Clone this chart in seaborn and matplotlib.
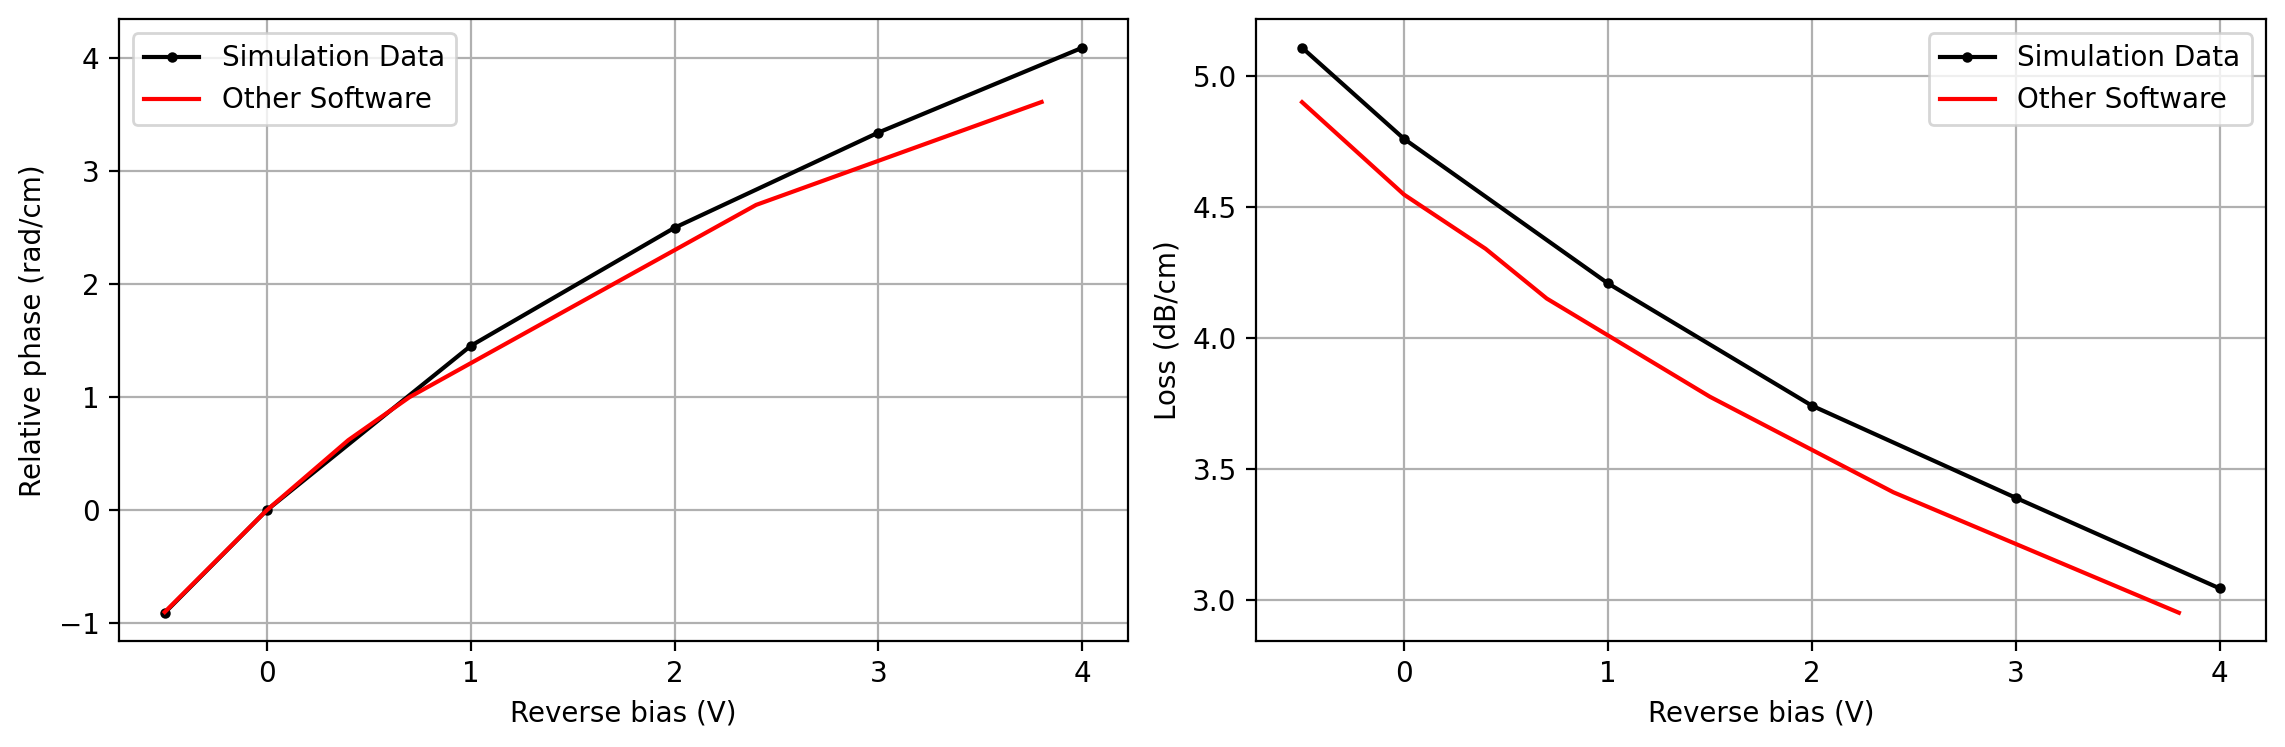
import matplotlib
matplotlib.use("Agg")
import matplotlib.pyplot as plt
import seaborn as sns

# Simulation data (sampled bias points)
bias_sim = [-0.5, 0, 1, 2, 3, 4]
phase_sim = [-0.906, 0.0, 1.453, 2.498, 3.34, 4.09]
loss_sim = [5.108, 4.76, 4.208, 3.741, 3.389, 3.043]

# Other software curve
bias_other = [-0.5, 0, 0.4, 0.7, 1.5, 2.4, 3.8]
phase_other = [-0.9, 0.0, 0.62, 1.0, 1.8, 2.7, 3.61]
loss_other = [4.90, 4.547, 4.34, 4.15, 3.775, 3.41, 2.95]

fig, axes = plt.subplots(1, 2, figsize=(11.425, 3.735), dpi=200)

# Relative phase
ax = axes[0]
sns.lineplot(x=bias_sim, y=phase_sim, ax=ax, color='black', marker='.',
             markeredgecolor='black', label='Simulation Data')
sns.lineplot(x=bias_other, y=phase_other, ax=ax, color='red', label='Other Software')
ax.set_xlabel('Reverse bias (V)')
ax.set_ylabel('Relative phase (rad/cm)')
ax.grid(True)
ax.legend(loc='upper left')

# Loss
ax = axes[1]
sns.lineplot(x=bias_sim, y=loss_sim, ax=ax, color='black', marker='.',
             markeredgecolor='black', label='Simulation Data')
sns.lineplot(x=bias_other, y=loss_other, ax=ax, color='red', label='Other Software')
ax.set_xlabel('Reverse bias (V)')
ax.set_ylabel('Loss (dB/cm)')
ax.grid(True)
ax.legend(loc='upper right')

plt.tight_layout(pad=0.7, w_pad=0.9)
plt.savefig('out.png', dpi=200)
